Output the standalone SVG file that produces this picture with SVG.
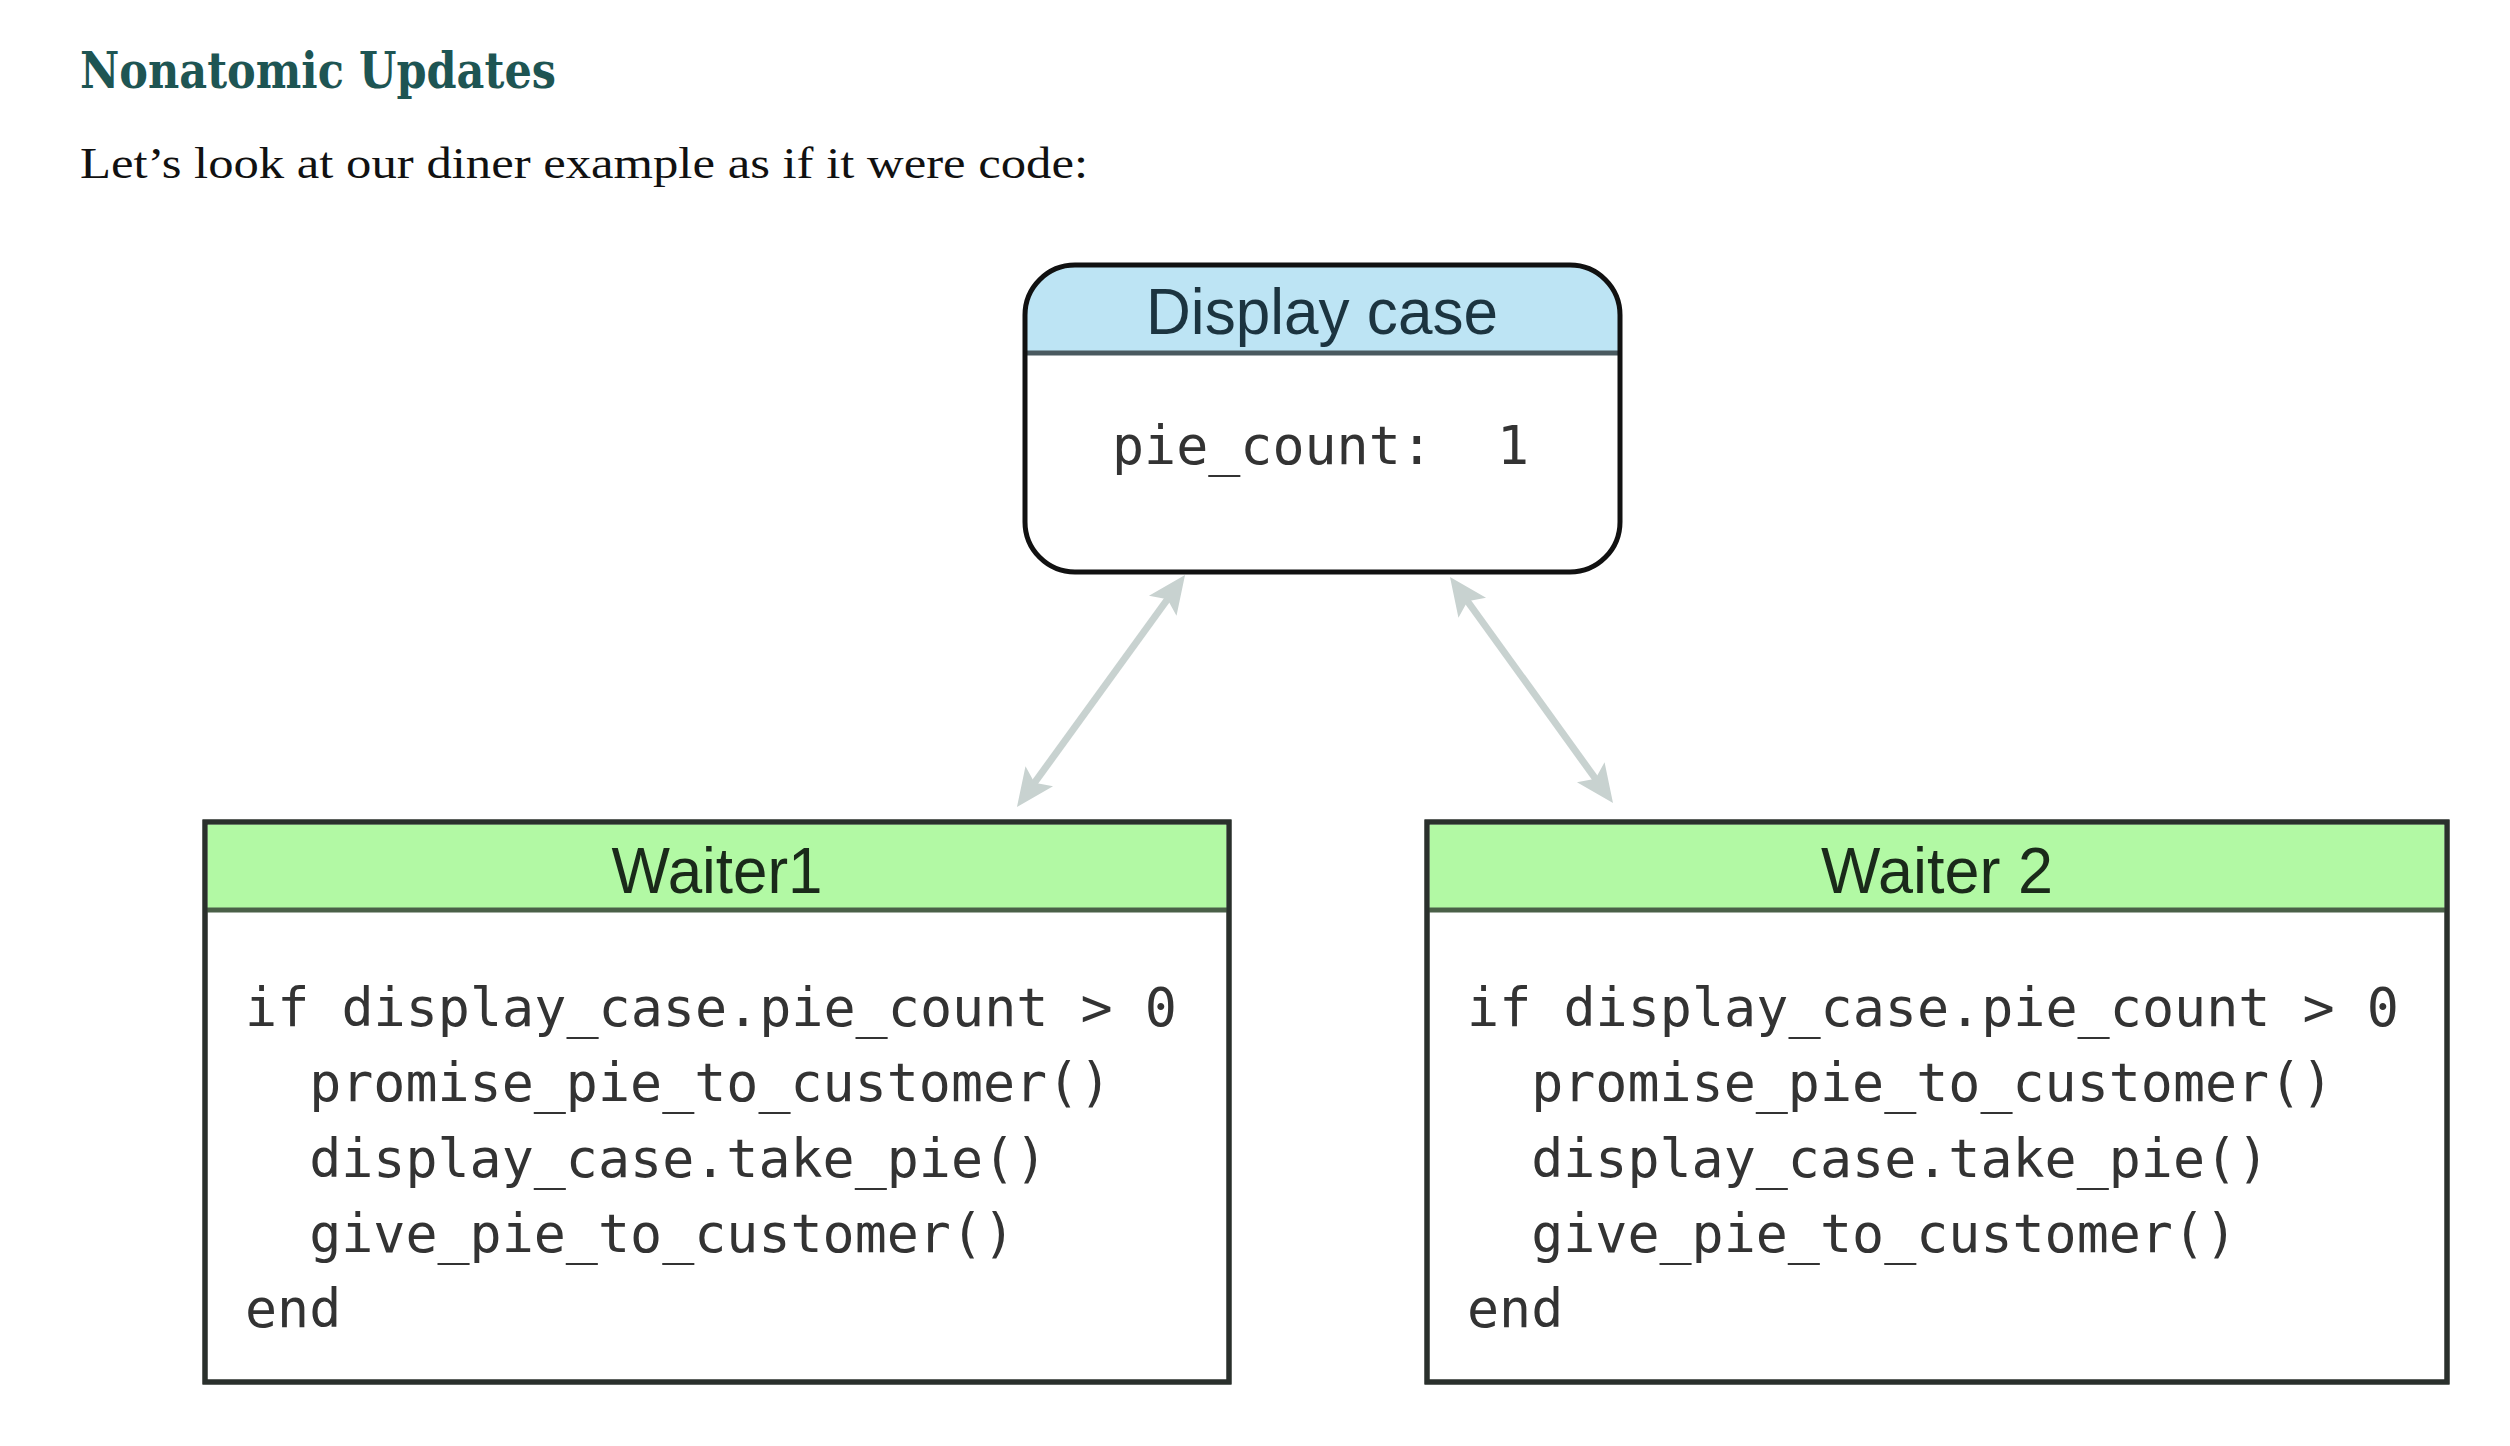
<svg xmlns="http://www.w3.org/2000/svg" width="2510" height="1446" viewBox="0 0 2510 1446">
  <style>
    .title { font-family: "DejaVu Serif", "Liberation Serif", serif; font-weight: bold; font-size: 50px; fill: #1e5553; }
    .intro { font-family: "Liberation Serif", "DejaVu Serif", serif; font-size: 45px; fill: #111111; }
    .head { font-family: "Liberation Sans", "DejaVu Sans", sans-serif; font-size: 64px; text-anchor: middle; }
    .code { font-family: "DejaVu Sans Mono", "Liberation Mono", monospace; font-size: 53.3px; fill: #333333; white-space: pre; }
    .conn { stroke: #c8d2d0; stroke-width: 7; fill: none; }
    .wbody { fill: #ffffff; stroke: #2a302c; stroke-width: 5; }
    .whead { fill: #b2f9a4; }
    .wdiv { stroke: #4a6048; stroke-width: 5; }
  </style>
  <defs>
    <marker id="arr" markerUnits="userSpaceOnUse" viewBox="-22 -20 44 40" refX="0" refY="0" markerWidth="44" markerHeight="40" orient="auto-start-reverse">
      <path d="M20,0 L-18,-17 L-10,0 L-18,17 Z" fill="#c8d2d0"/>
    </marker>
  </defs>
  <rect x="0" y="0" width="2510" height="1446" fill="#ffffff"/>

  <text class="title" x="80" y="88" textLength="476" lengthAdjust="spacingAndGlyphs">Nonatomic Updates</text>
  <text class="intro" x="80" y="178" textLength="1008" lengthAdjust="spacingAndGlyphs">Let’s look at our diner example as if it were code:</text>

  <g id="connectors">
    <path class="conn" d="M1173.3,591.2 L1028.7,790.8" marker-start="url(#arr)" marker-end="url(#arr)"/>
    <path class="conn" d="M1461.7,593.2 L1601.3,786.8" marker-start="url(#arr)" marker-end="url(#arr)"/>
  </g>

  <g id="display-case">
    <rect x="1025" y="265" width="595" height="307" rx="50" ry="50" fill="#ffffff"/>
    <path d="M1025,353 V315 A50,50 0 0 1 1075,265 H1570 A50,50 0 0 1 1620,315 V353 Z" fill="#bde4f4"/>
    <line x1="1025" y1="353" x2="1620" y2="353" stroke="#4a5a60" stroke-width="5"/>
    <rect x="1025" y="265" width="595" height="307" rx="50" ry="50" fill="none" stroke="#111111" stroke-width="5"/>
    <text class="head" x="1322" y="334" fill="#1c3440" textLength="352" lengthAdjust="spacingAndGlyphs">Display case</text>
    <text class="code" x="1112" y="464">pie_count:  1</text>
  </g>

  <g id="waiter1">
    <rect class="wbody" x="205" y="822" width="1024" height="560"/>
    <rect class="whead" x="207.5" y="824.5" width="1019" height="85.5"/>
    <line class="wdiv" x1="205" y1="910" x2="1229" y2="910"/>
    <rect x="205" y="822" width="1024" height="560" fill="none" stroke="#2a302c" stroke-width="5"/>
    <text class="head" x="717" y="893" fill="#1a2a1a" textLength="211" lengthAdjust="spacingAndGlyphs">Waiter1</text>
    <text class="code" x="245" y="1026" textLength="932" lengthAdjust="spacingAndGlyphs">if display_case.pie_count &gt; 0</text>
    <text class="code" x="245" y="1101">  promise_pie_to_customer()</text>
    <text class="code" x="245" y="1177">  display_case.take_pie()</text>
    <text class="code" x="245" y="1252">  give_pie_to_customer()</text>
    <text class="code" x="245" y="1327">end</text>
  </g>

  <g id="waiter2">
    <rect class="wbody" x="1427" y="822" width="1020" height="560"/>
    <rect class="whead" x="1429.5" y="824.5" width="1015" height="85.5"/>
    <line class="wdiv" x1="1427" y1="910" x2="2447" y2="910"/>
    <rect x="1427" y="822" width="1020" height="560" fill="none" stroke="#2a302c" stroke-width="5"/>
    <text class="head" x="1937" y="893" fill="#1a2a1a" textLength="232" lengthAdjust="spacingAndGlyphs">Waiter 2</text>
    <text class="code" x="1467" y="1026" textLength="932" lengthAdjust="spacingAndGlyphs">if display_case.pie_count &gt; 0</text>
    <text class="code" x="1467" y="1101">  promise_pie_to_customer()</text>
    <text class="code" x="1467" y="1177">  display_case.take_pie()</text>
    <text class="code" x="1467" y="1252">  give_pie_to_customer()</text>
    <text class="code" x="1467" y="1327">end</text>
  </g>
</svg>
